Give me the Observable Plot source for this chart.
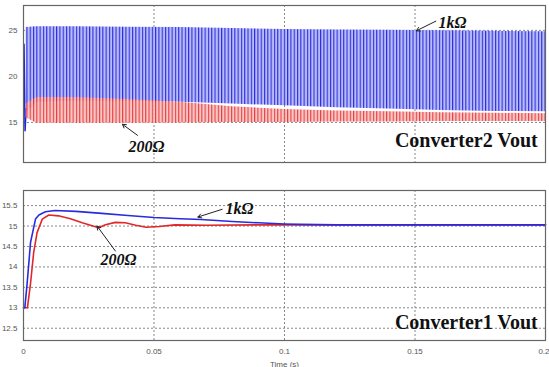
<!DOCTYPE html>
<html><head><meta charset="utf-8">
<script src="https://cdn.jsdelivr.net/npm/d3@7"></script>
<script src="https://cdn.jsdelivr.net/npm/@observablehq/plot@0.6"></script>
<style>
body{margin:0;background:#fff;width:549px;height:367px;overflow:hidden;position:relative}
#top{position:absolute;left:0;top:0}
#bot{position:absolute;left:0;top:185px}
</style></head>
<body><div id="top"></div><div id="bot"></div>
<script>
// ---------- Converter2 Vout (top panel): ripple envelopes ----------
const tTop    = [0.001, 0.005, 0.02, 0.04, 0.06, 0.08, 0.1, 0.12, 0.14, 0.16, 0.18, 0.2];
const blueHi  = [25.3, 25.4, 25.4, 25.35, 25.3, 25.2, 25.1, 25.05, 25.0, 24.95, 24.9, 24.85];
const blueLo  = [16.0, 17.2, 17.3, 17.3, 17.2, 17.0, 16.8, 16.6, 16.45, 16.3, 16.2, 16.15];
const redHi   = [17.0, 17.7, 17.7, 17.5, 17.2, 16.7, 16.4, 16.25, 16.15, 16.05, 16.0, 15.95];
const redLo   = [15.5, 14.9, 14.9, 14.9, 14.95, 15.0, 15.0, 15.05, 15.05, 15.1, 15.1, 15.1];
const tBlueStart = [0.0002, 0.0006, 0.001];
const vBlueStart = [23.5, 14.1, 16.5];
const yTicksTop = [15, 20, 25];

// ---------- Converter1 Vout (bottom panel) ----------
const tBlue1 = [0, 0.0005, 0.0014, 0.0027, 0.0046, 0.0059, 0.0084, 0.012, 0.02, 0.03, 0.04, 0.05, 0.06, 0.068, 0.08, 0.09, 0.1, 0.106, 0.12, 0.13, 0.15, 0.17, 0.2];
const vBlue1 = [13.0, 13.0, 13.6, 14.6, 15.17, 15.27, 15.35, 15.38, 15.36, 15.31, 15.26, 15.21, 15.18, 15.16, 15.11, 15.08, 15.05, 15.04, 15.03, 15.03, 15.03, 15.03, 15.03];
const tRed1 = [0, 0.0015, 0.0027, 0.0039, 0.0052, 0.0072, 0.0097, 0.0134, 0.018, 0.0225, 0.0288, 0.0314, 0.0352, 0.039, 0.043, 0.047, 0.052, 0.058, 0.07, 0.09, 0.12, 0.2];
const vRed1 = [13.0, 13.0, 13.6, 14.35, 14.84, 15.17, 15.27, 15.25, 15.18, 15.08, 14.96, 15.03, 15.09, 15.08, 15.02, 14.97, 14.99, 15.03, 15.02, 15.03, 15.03, 15.03];
const yTicksBot = [12.5, 13, 13.5, 14, 14.5, 15, 15.5];
const xTicks = [0, 0.05, 0.1, 0.15];
const xTickLast = [0.2];
const xGrid = [0.05, 0.1, 0.15];

// annotation labels
const topLabels = [{text:"1kΩ", t:0.159, v:25.8}, {text:"200Ω", t:0.0402, v:12.3}];
const topArrows = [{t1:0.158, v1:26.0, t2:0.1505, v2:24.95}, {t1:0.0437, v1:13.6, t2:0.0379, v2:14.8}];
const botLabels = [{text:"1kΩ", t:0.0774, v:15.42}, {text:"200Ω", t:0.0295, v:14.17}];
const botArrows = [{t1:0.0761, v1:15.41, t2:0.0668, v2:15.22}, {t1:0.0352, v1:14.39, t2:0.0282, v2:15.0}];
const titles = ["Converter2 Vout", "Converter1 Vout"];

const topBand = tTop.map((t,i)=>({t, bh:blueHi[i], bl:blueLo[i], rh:redHi[i], rl:redLo[i]}));
const startSeg = tBlueStart.map((t,i)=>({t, v:vBlueStart[i]}));
const blue1 = tBlue1.map((t,i)=>({t, v:vBlue1[i]}));
const red1 = tRed1.map((t,i)=>({t, v:vRed1[i]}));

const baseStyle = {fontSize:"8px", fontFamily:"Liberation Sans, Arial, sans-serif", color:"#555", background:"#fff"};
const labelFont = {fontSize:16, fontFamily:"Liberation Serif, serif", fontWeight:"bold", fontStyle:"italic", fill:"#111"};
const titleFont = {fontSize:20, fontFamily:"Liberation Serif, serif", fontWeight:"bold", fill:"#111"};

const topPlot = Plot.plot({
  width:549, height:170, marginLeft:23, marginRight:4, marginTop:5, marginBottom:8,
  style: baseStyle,
  x:{domain:[0,0.2]}, y:{domain:[10.65,27.7]},
  marks:[
    Plot.gridX(xGrid, {stroke:"#888", strokeOpacity:1, strokeDasharray:"2,2"}),
    Plot.gridY(yTicksTop, {stroke:"#888", strokeOpacity:1, strokeDasharray:"2,2"}),
    Plot.areaY(topBand, {x:"t", y1:"bl", y2:"bh", fill:"url(#blueStripes)"}),
    Plot.line(startSeg, {x:"t", y:"v", stroke:"#2020d8", strokeWidth:1.5}),
    Plot.areaY(topBand, {x:"t", y1:"rl", y2:"rh", fill:"url(#redStripes)", fillOpacity:0.9}),
    Plot.axisY({ticks:yTicksTop, tickSize:0, tickPadding:6, label:null}),
    Plot.axisX({ticks:[], label:null}),
    Plot.frame({stroke:"#666", strokeWidth:1.2}),
    Plot.text(topLabels, {x:"t", y:"v", text:"text", textAnchor:"start", ...labelFont}),
    Plot.arrow(topArrows, {x1:"t1", y1:"v1", x2:"t2", y2:"v2", stroke:"#222", strokeWidth:1, headLength:6}),
    Plot.text([titles[0]], {x:0.197, y:12.98, text:d=>d, textAnchor:"end", lineAnchor:"middle", ...titleFont})
  ]
});

const botPlot = Plot.plot({
  width:549, height:182, marginLeft:23, marginRight:4, marginTop:5, marginBottom:27,
  style: baseStyle,
  x:{domain:[0,0.2]}, y:{domain:[12.2,15.87]},
  marks:[
    Plot.gridX(xGrid, {stroke:"#888", strokeOpacity:1, strokeDasharray:"2,2"}),
    Plot.gridY(yTicksBot, {stroke:"#888", strokeOpacity:1, strokeDasharray:"2,2"}),
    Plot.line(red1, {x:"t", y:"v", stroke:"#e02828", strokeWidth:1.6}),
    Plot.line(blue1, {x:"t", y:"v", stroke:"#2a2ae0", strokeWidth:1.6}),
    Plot.axisY({ticks:yTicksBot, tickFormat:d=>String(d), tickSize:0, tickPadding:6, label:null}),
    Plot.axisX({ticks:xTicks, tickFormat:d=>String(d), tickSize:0, tickPadding:8, label:"Time (s)", labelAnchor:"center", labelArrow:"none", labelOffset:26}),
    Plot.axisX({ticks:xTickLast, tickFormat:d=>String(d), tickSize:0, tickPadding:8, textAnchor:"end", dx:4, label:null}),
    Plot.frame({stroke:"#666", strokeWidth:1.2}),
    Plot.text(botLabels, {x:"t", y:"v", text:"text", textAnchor:"start", ...labelFont}),
    Plot.arrow(botArrows, {x1:"t1", y1:"v1", x2:"t2", y2:"v2", stroke:"#222", strokeWidth:1, headLength:6}),
    Plot.text([titles[1]], {x:0.197, y:12.63, text:d=>d, textAnchor:"end", lineAnchor:"middle", ...titleFont})
  ]
});

// stripe patterns that give the dense switching-ripple texture
const defs = d3.select(topPlot).insert("defs", ":first-child");
function stripes(id, bg, fg, w, sw){
  const p = defs.append("pattern").attr("id", id).attr("patternUnits","userSpaceOnUse")
    .attr("width", w).attr("height", 400);
  p.append("rect").attr("width", w).attr("height", 400).attr("fill", bg);
  p.append("rect").attr("width", sw).attr("height", 400).attr("fill", fg);
}
stripes("blueStripes", "#b8bcf4", "#2c2ce6", 3.3, 1.1);
stripes("redStripes", "#f8c0c0", "#e62a2a", 3.3, 1.1);

document.getElementById("top").appendChild(topPlot);
document.getElementById("bot").appendChild(botPlot);
</script>
</body></html>
